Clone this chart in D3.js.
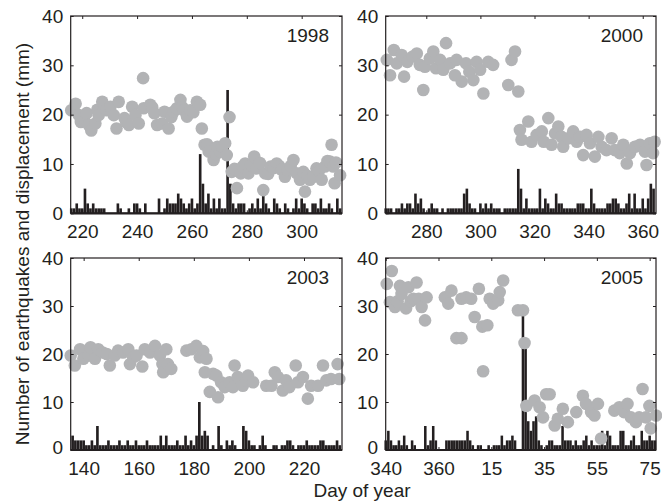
<!DOCTYPE html>
<html>
<head>
<meta charset="utf-8">
<script src="https://cdn.jsdelivr.net/npm/d3@7"></script>
<style>
  html, body { margin: 0; padding: 0; background: #fff; }
  svg text { font-family: "Liberation Sans", Arial, Helvetica, sans-serif; fill: #231f20; }
</style>
</head>
<body>
<svg id="chart" width="662" height="501"></svg>
<script>
// ---------------- DATA ----------------
const yearLabels = ["1998", "2000", "2003", "2005"];

// daily earthquake counts (bars); first day of each series
const quakeStart1998 = 216;
const quakes1998 = [1,1,2,1,1,5,2,1,2,1, 1,1,1,0,0,0,0,2,1,0, 0,1,0,2,2,1,0,2,0,0,
  0,0,3,0,1,3,2,2,2,4, 3,2,1,2,3,1,2,12,6,2, 4,1,3,1,3,1,1,25,6,2,
  1,2,2,2,0,1,2,1,3,1, 4,2,1,0,3,2,1,0,2,1, 0,1,3,1,3,2,1,0,2,2, 1,3,1,1,2,1,0,3,1];

const quakeStart2000 = 265;
const quakes2000 = [1,1,1,0,1,1,2,1,2,2, 1,4,2,3,1,0,1,2,1,1, 0,1,0,1,1,1,
  1,1,1,4,5,2,1,1,0,2, 1,2,1,2,1,1,1,0,1,1, 1,1,1,9,5,1,3,1,1,1,
  1,5,1,3,2,1,1,4,2,2, 1,1,1,1, 1,2,2,2,1,1,5,2,1,1, 1,1,2,2,3,3,2,1,1,2,
  4,1,4,1,1,3,1,3,6,5];

const quakeStart2003 = 136;
const quakes2003 = [3,2,2,2,2,1,1,2,1,5, 1,1,1,2,1,1,1,2,1,1, 2,1,1,2,1,1,1,2,1,1,
  1,1,3,1,3,1,1,1,2,1, 1,3,1,2,1,3,10,3,4,3, 0,1,0,5,1,0,2,1,2,1,
  0,0,5,4,2,1,1,0,1,3, 1,0,0,1,1,0,1,1,2,2, 1,0,1,1,1,2,1,1,1,1, 2,2,1,1,1,1,2,1];

// 2005 panel: continuous day count from day 340 of 2004 (366 = day 1 of 2005 ... shown as 15, 35, ...)
const quakeStart2005 = 340;
const quakes2005 = [2,4,2,1,1,2,1,3,1,0, 2,1,0,0,0,5,1,2,5,2, 0,0,0,2,2,2,2,2,2,2,
  2,4,2,1,0,1,1,0,0,1, 0,1,1,1,3,1,2,2,3,2, 0,0,28,22,6,4,6,7,2,1,
  0,1,2,2,1,1,1,5,2,2, 2,1,2,1,1,2,3,1,2,1, 1,1,4,1,4,3,1,1,1,4,
  4,1,1,2,3,1,1,4,2,2, 3,2,2];

// displacement (mm) -- day and value
const dispDay1998 = [216.0,217.6,218.8,219.5,220.6,221.6,222.4,223.3,224.8,225.5,226.0,227.3,228.8,230.3,231.5,232.5,233.3,235.4,236.0,237.0,238.2,239.4,240.6,242.2,242.4,244.8,245.5,246.3,247.3,249.1,250.0,251.5,252.5,253.3,254.5,255.8,256.5,257.0,258.2,259.4,260.5,261.8,263.0,263.6,264.6,265.5,266.1,267.9,268.8,269.3,270.3,271.0,272.1,272.7,273.7,274.5,275.5,276.4,277.8,278.5,279.4,280.6,281.5,282.7,283.6,284.8,286.0,286.7,287.8,288.7,289.8,290.9,291.8,292.7,293.9,294.8,296.0,297.0,298.2,299.4,300.6,301.2,302.0,303.0,304.2,305.4,306.3,307.3,308.5,309.4,310.3,310.9,311.5,312.0,312.5,314.0];
const disp1998 = [20.9,22.2,19.9,18.5,19.3,20.3,17.9,16.8,18.2,21.0,19.9,22.6,20.9,21.6,19.9,17.2,22.6,19.3,18.5,17.9,21.6,19.9,18.2,27.4,21.3,22.0,21.5,20.3,17.9,18.2,20.6,17.2,19.5,20.6,21.3,23.0,21.5,20.9,19.6,20.9,20.5,22.6,22.0,17.2,13.9,14.0,12.5,10.8,12.0,13.5,12.5,13.5,14.2,11.8,19.5,8.4,9.0,5.1,8.1,9.5,10.1,8.1,9.8,11.5,9.1,10.2,4.7,8.1,8.0,9.5,9.2,10.1,9.6,8.8,7.4,8.8,9.6,10.8,8.1,6.8,8.4,4.4,7.6,6.8,7.4,9.1,8.6,6.8,9.5,10.6,10.5,13.9,9.5,6.1,10.3,7.7];

const dispDay2000 = [265.4,266.6,268.0,269.1,270.9,271.8,273.0,275.0,276.5,277.6,278.9,279.5,281.3,282.6,283.6,285.1,286.3,287.3,288.8,290.6,291.2,293.1,294.7,295.9,297.4,298.6,299.9,301.1,302.9,304.7,310.3,311.5,312.8,314.0,314.6,315.2,317.7,318.9,320.8,322.7,323.4,325.1,326.3,327.6,328.8,330.0,330.6,332.5,334.3,335.6,336.8,338.0,339.2,340.5,342.3,343.6,344.8,346.6,348.5,349.7,351.5,352.8,354.1,355.3,357.1,359.0,360.8,361.4,362.6,363.8,364.4];
const disp2000 = [31.1,28.0,33.1,30.4,32.1,27.7,30.7,31.8,32.4,30.1,25.0,29.7,31.4,32.8,29.4,31.1,29.1,34.5,30.4,28.0,31.1,26.7,30.4,28.7,27.0,30.7,29.1,24.3,30.7,30.1,26.0,31.1,32.8,24.7,16.9,14.9,18.6,14.5,15.9,16.6,14.5,19.3,13.9,16.2,17.6,15.5,13.5,15.2,16.6,14.5,15.5,11.8,15.9,14.2,11.5,15.5,13.5,12.8,15.2,12.8,12.2,13.9,10.1,12.2,13.5,13.9,12.5,9.8,14.2,12.2,14.5];

const dispDay2003 = [135.3,136.8,138.7,139.9,141.7,142.5,144.1,145.3,146.9,148.4,149.5,151.3,152.5,154.3,156.2,156.8,158.0,159.2,161.3,162.2,164.1,165.9,167.7,168.6,168.9,170.0,170.6,171.8,177.3,179.1,180.9,182.2,183.4,184.6,184.0,185.8,187.0,188.2,188.8,189.9,191.2,193.0,194.2,194.8,196.0,197.8,199.0,199.7,201.5,206.3,208.2,209.4,210.5,212.3,213.5,214.7,217.0,217.8,219.6,221.4,222.6,225.1,226.9,228.1,229.8,232.2,232.8];
const disp2003 = [19.7,17.6,21.0,19.0,19.7,21.4,19.0,21.0,20.3,20.0,17.6,19.7,20.7,20.3,21.0,17.9,19.3,19.7,17.4,21.0,20.3,21.7,19.7,17.9,16.2,21.0,17.9,16.9,20.7,21.0,21.7,19.3,20.6,19.0,16.2,12.1,15.9,15.5,11.0,14.1,13.1,14.1,13.1,17.6,15.2,13.4,14.5,15.5,14.1,13.4,13.4,16.2,15.2,12.4,14.5,13.1,17.6,14.1,15.2,10.7,13.4,13.4,17.6,14.5,14.8,17.9,14.8];

const dispDay2005 = [340.4,342.3,341.6,343.5,344.5,345.4,346.0,347.7,348.6,349.5,350.5,351.7,352.5,353.6,354.9,355.5,362.4,363.7,364.9,366.8,368.7,368.7,370.5,372.4,373.7,375.3,376.6,376.9,378.5,379.4,380.7,382.6,383.2,384.5,390.1,392.0,392.6,393.3,396.4,398.3,399.6,400.8,402.1,404.0,405.2,407.1,409.0,412.2,414.7,415.9,417.8,419.1,420.4,421.6,426.6,428.5,430.3,431.6,432.9,434.8,436.0,437.3,438.6,439.9,440.4,442.4];
const disp2005 = [34.6,37.3,30.8,29.8,31.0,34.2,32.5,29.5,33.9,31.0,31.5,34.9,31.5,29.8,27.0,31.8,31.8,30.5,33.2,23.3,23.3,31.5,31.8,31.5,27.7,33.6,25.7,16.4,26.0,31.5,30.5,31.2,32.9,35.3,29.1,29.1,22.3,9.2,10.3,8.9,6.8,11.6,11.6,5.1,6.5,8.6,5.8,7.9,11.3,9.6,7.9,7.2,9.6,2.4,8.2,8.9,7.9,9.6,6.8,5.8,6.8,12.7,6.8,9.2,4.5,7.2];

// axis ticks
const yTicks = [0, 10, 20, 30, 40];
const xTicks1998 = [220, 240, 260, 280, 300];
const xTicks2000 = [280, 300, 320, 340, 360];
const xTicks2003 = [140, 160, 180, 200, 220];
const xTicks2005 = [340, 360, 380, 400, 420, 440];
const xTickLabels2005 = ["340", "360", "15", "35", "55", "75"];

const yLabel = "Number of earthquakes and displacement (mm)";
const xLabel = "Day of year";

// ---------------- LAYOUT ----------------
const panels = [
  { year: yearLabels[0], qStart: quakeStart1998, q: quakes1998, dDay: dispDay1998, d: disp1998,
    xd: [215.8, 314.7], ticks: xTicks1998, labels: null, box: [70.7, 342, 16, 213.3], pad: 11, bottomRow: false },
  { year: yearLabels[1], qStart: quakeStart2000, q: quakes2000, dDay: dispDay2000, d: disp2000,
    xd: [265, 364.9], ticks: xTicks2000, labels: null, box: [385.7, 656, 16, 213.3], pad: 11, bottomRow: false },
  { year: yearLabels[2], qStart: quakeStart2003, q: quakes2003, dDay: dispDay2003, d: disp2003,
    xd: [135.3, 233.8], ticks: xTicks2003, labels: null, box: [70.7, 342, 258, 450], pad: 12, bottomRow: true },
  { year: yearLabels[3], qStart: quakeStart2005, q: quakes2005, dDay: dispDay2005, d: disp2005,
    xd: [340, 442.4], ticks: xTicks2005, labels: xTickLabels2005, box: [385.7, 656, 258, 450], pad: 12, bottomRow: true }
];

const svg = d3.select("#chart");
const ink = "#231f20";
const dotColor = "#b2b3b5";
const fontSize = 19;

panels.forEach(p => {
  const [x0, x1, yTop, yBot] = p.box;
  const x = d3.scaleLinear().domain(p.xd).range([x0, x1]);
  const y = d3.scaleLinear().domain([0, 40]).range([yBot, yTop]);
  const g = svg.append("g");
  const dayW = x(p.xd[0] + 1) - x(p.xd[0]);
  const bw = dayW * 0.96;

  const barData = p.q.map((v, i) => ({ day: p.qStart + i, v }));
  g.append("g").selectAll("rect").data(barData.filter(d => d.v > 0)).join("rect")
    .attr("x", d => x(d.day) - bw / 2)
    .attr("width", bw)
    .attr("y", d => y(d.v))
    .attr("height", d => y(0) - y(d.v))
    .attr("fill", ink);

  const dots = p.dDay.map((day, i) => ({ day, v: p.d[i] }));
  g.append("g").selectAll("circle").data(dots).join("circle")
    .attr("cx", d => x(d.day))
    .attr("cy", d => y(d.v))
    .attr("r", 6.3)
    .attr("fill", dotColor);

  // axes with inward ticks on all sides
  const fmt = p.labels ? ((d, i) => p.labels[i]) : d3.format("d");
  const xb = g.append("g").attr("transform", `translate(0,${yBot})`)
    .call(d3.axisBottom(x).tickValues(p.ticks).tickFormat(fmt).tickSize(-3).tickSizeOuter(0).tickPadding(p.pad));
  const xt = g.append("g").attr("transform", `translate(0,${yTop})`)
    .call(d3.axisTop(x).tickValues(p.ticks).tickFormat("").tickSize(-3).tickSizeOuter(0));
  const yl = g.append("g").attr("transform", `translate(${x0},0)`)
    .call(d3.axisLeft(y).tickValues(yTicks).tickSize(-3).tickSizeOuter(0).tickPadding(7.5));
  const yr = g.append("g").attr("transform", `translate(${x1},0)`)
    .call(d3.axisRight(y).tickValues(yTicks).tickFormat("").tickSize(-3).tickSizeOuter(0));
  if (p.bottomRow) yl.selectAll(".tick").filter(d => d === 0).select("text").attr("dy", "0.2em");
  [xb, xt, yl, yr].forEach(a => {
    a.select(".domain").remove();
    a.selectAll(".tick line").attr("stroke", ink).attr("stroke-width", 1);
    a.selectAll("text").attr("font-size", fontSize).attr("fill", ink)
      .style("font-family", "'Liberation Sans', Arial, Helvetica, sans-serif");
  });

  // frame
  g.append("rect").attr("x", x0).attr("y", yTop).attr("width", x1 - x0).attr("height", yBot - yTop)
    .attr("fill", "none").attr("stroke", ink).attr("stroke-width", 1.2);
  g.append("line").attr("x1", x0).attr("x2", x1).attr("y1", yBot).attr("y2", yBot)
    .attr("stroke", ink).attr("stroke-width", 2.2);

  g.append("text").attr("x", x1 - 13).attr("y", yTop + 26)
    .attr("text-anchor", "end").attr("font-size", fontSize).text(p.year);
});

svg.append("text")
  .attr("transform", "translate(28.5,244) rotate(-90)")
  .attr("text-anchor", "middle").attr("font-size", fontSize).text(yLabel);
svg.append("text")
  .attr("x", 362).attr("y", 496.8)
  .attr("text-anchor", "middle").attr("font-size", fontSize).text(xLabel);
</script>
</body>
</html>
